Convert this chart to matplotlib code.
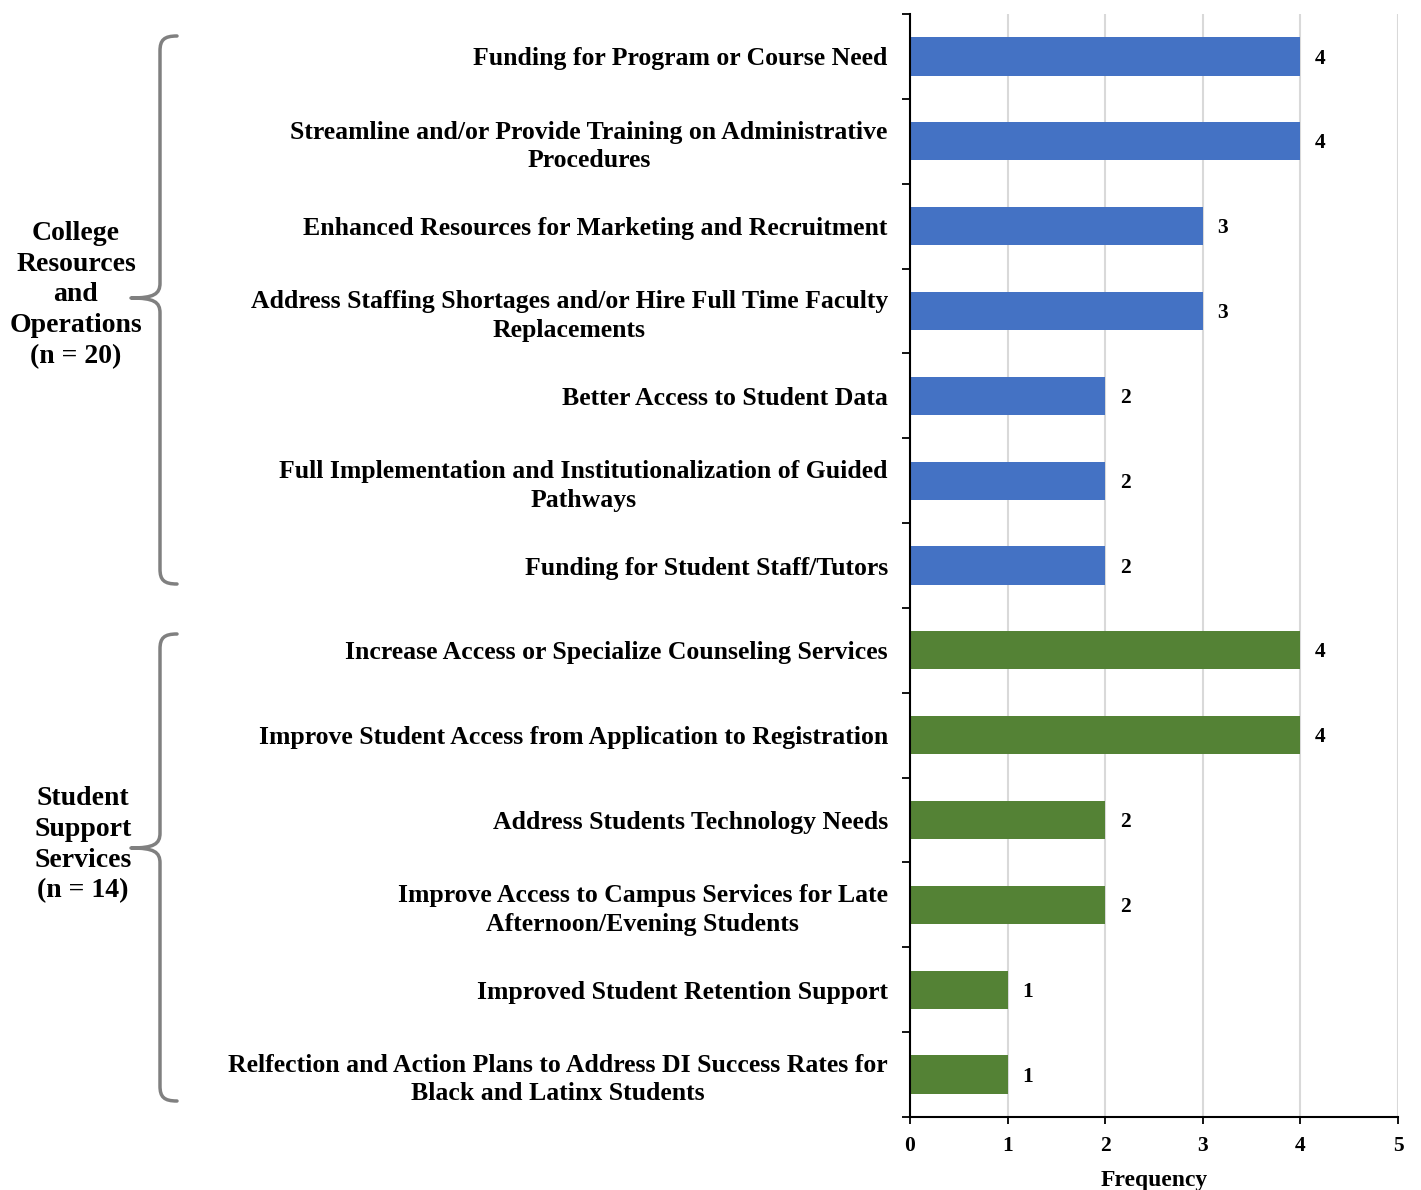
import matplotlib
matplotlib.use("Agg")
import matplotlib.pyplot as plt
from matplotlib.path import Path
from matplotlib.patches import PathPatch
from matplotlib.ticker import FixedLocator

plt.rcParams['font.family'] = ['Liberation Serif', 'DejaVu Serif']
plt.rcParams['font.weight'] = 'bold'

# data, top to bottom
categories = [
    "Funding for Program or Course Need",
    "Streamline and/or Provide Training on Administrative\nProcedures",
    "Enhanced Resources for Marketing and Recruitment",
    "Address Staffing Shortages and/or Hire Full Time Faculty\nReplacements",
    "Better Access to Student Data",
    "Full Implementation and Institutionalization of Guided\nPathways",
    "Funding for Student Staff/Tutors",
    "Increase Access or Specialize Counseling Services",
    "Improve Student Access from Application to Registration",
    "Address Students Technology Needs",
    "Improve Access to Campus Services for Late\nAfternoon/Evening Students",
    "Improved Student Retention Support",
    "Relfection and Action Plans to Address DI Success Rates for\nBlack and Latinx Students",
]
values = [4, 4, 3, 3, 2, 2, 2, 4, 4, 2, 2, 1, 1]
groups = ["College\nResources\nand\nOperations\n(n = 20)",
          "Student\nSupport\nServices\n(n = 14)"]
group_sizes = [7, 6]
group_colors = ["#4472C4", "#548235"]
x_ticks = [0, 1, 2, 3, 4, 5]

W, H = 1421, 1190
fig = plt.figure(figsize=(W / 100, H / 100), dpi=100)
ax = fig.add_axes([910 / W, 1 - 1117 / H, (1398 - 910) / W, (1117 - 14) / H])

colors = []
for c, n in zip(group_colors, group_sizes):
    colors += [c] * n

pos = list(range(len(categories)))
ax.barh(pos, values, height=0.45, color=colors, zorder=3)
for p, v in zip(pos, values):
    ax.annotate(str(v), (v, p), xytext=(10.5, -1.5), textcoords="offset points",
                va="center", ha="left", fontsize=15.5, fontweight="bold")

ax.set_ylim(len(categories) - 0.5, -0.5)
ax.set_xlim(0, 5)
ax.set_xticks(x_ticks)
ax.set_xticklabels([str(t) for t in x_ticks], fontsize=15.5, fontweight="bold")
ax.set_yticks(pos)
ax.set_yticklabels(categories, fontsize=18.5, fontweight="bold",
                   multialignment="center", linespacing=1.3)
ax.tick_params(axis="y", which="major", length=0, pad=16)
ax.yaxis.set_minor_locator(FixedLocator([p - 0.5 for p in range(len(pos) + 1)]))
ax.tick_params(axis="y", which="minor", length=6, width=1.3, direction="out")
ax.tick_params(axis="x", which="major", length=5, width=1.3, direction="out", pad=9)
ax.set_xlabel("Frequency", fontsize=17, fontweight="bold", labelpad=10)

ax.grid(axis="x", color="#d9d9d9", linewidth=1.5, zorder=0)
for s in ["top", "right"]:
    ax.spines[s].set_visible(False)
for s in ["left", "bottom"]:
    ax.spines[s].set_linewidth(1.5)
    ax.spines[s].set_zorder(4)


# curly braces drawn in pixel coords (y measured from top)
def brace(y0, y1, ym, xv=160, xe=177, xt=131):
    r = 15
    verts = [
        (xe, y0), (xv + 4, y0), (xv, y0 + 4), (xv, y0 + r),
        (xv, ym - r),
        (xv, ym - 4), (xv - 6, ym), (xt, ym),
        (xv - 6, ym), (xv, ym + 4), (xv, ym + r),
        (xv, y1 - r),
        (xv, y1 - 4), (xv + 4, y1), (xe, y1),
    ]
    codes = [Path.MOVETO, Path.CURVE4, Path.CURVE4, Path.CURVE4,
             Path.LINETO,
             Path.CURVE4, Path.CURVE4, Path.CURVE4,
             Path.CURVE4, Path.CURVE4, Path.CURVE4,
             Path.LINETO,
             Path.CURVE4, Path.CURVE4, Path.CURVE4]
    verts = [(x / W, 1 - y / H) for x, y in verts]
    fig.add_artist(PathPatch(Path(verts, codes), transform=fig.transFigure,
                             fill=False, edgecolor="#808080", linewidth=2.5,
                             capstyle="round", joinstyle="round"))


brace(36, 584, 298)
brace(634, 1101, 848)

fig.text(76 / W, 1 - 295 / H, groups[0], ha="center", va="center",
         fontsize=20, fontweight="bold", linespacing=1.3)
fig.text(83 / W, 1 - 845 / H, groups[1], ha="center", va="center",
         fontsize=20, fontweight="bold", linespacing=1.3)

fig.savefig("out.png", dpi=100)
